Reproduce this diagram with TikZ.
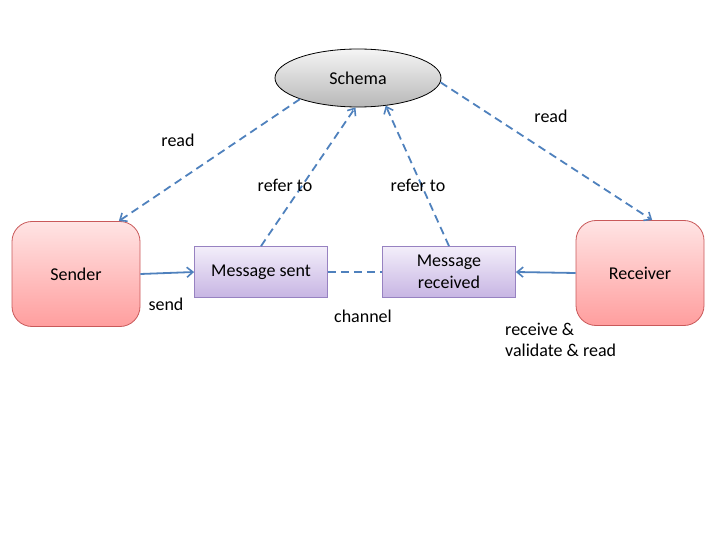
\documentclass[tikz,border=0pt]{standalone}
\usepackage{fontspec}
\setmainfont{Carlito}
\usetikzlibrary{arrows.meta,shapes.geometric}
\definecolor{linkblue}{HTML}{4F81BD}
\definecolor{actorline}{HTML}{C9595A}
\definecolor{actortop}{HTML}{FFE4E4}
\definecolor{actorbot}{HTML}{FF9E9E}
\definecolor{msgline}{HTML}{9782C1}
\definecolor{msgtop}{HTML}{F3EEFA}
\definecolor{msgbot}{HTML}{C7B5E3}
\tikzset{
  actor/.style={draw=actorline,line width=0.8pt,rounded corners=20pt,minimum width=128pt,minimum height=105pt,top color=actortop,bottom color=actorbot},
  msgbox/.style={draw=msgline,line width=0.8pt,minimum width=133pt,minimum height=51pt,top color=msgtop,bottom color=msgbot,align=center},
  schemanode/.style={ellipse,draw=black,line width=0.8pt,minimum width=166pt,minimum height=58pt,top color=white!96!black,bottom color=black!28},
  link/.style={linkblue,line width=1.8pt,-{Straight Barb[length=6pt,width=10pt,line width=1.6pt]}},
  dashlink/.style={link,dash pattern=on 8pt off 5pt},
  lbl/.style={inner sep=0pt}
}
\begin{document}
\begin{tikzpicture}[x=1pt,y=-1pt,font=\fontsize{18}{21.5}\selectfont]
\useasboundingbox (0,0) rectangle (720,540);
\node[schemanode] (schema) at (358,78) {Schema};
\node[actor] (sender) at (76,274) {Sender};
\node[actor] (receiver) at (640,273) {Receiver};
\node[msgbox] (sent) at (261,272) {Message sent};
\node[msgbox] (recv) at (449,272) {Message\\received};
\draw[link] (sender.east) -- (sent.west);
\draw[link] (receiver.west) -- (recv.east);
\draw[dashlink,-] (sent.east) -- (recv.west);
\draw[dashlink] (schema.200) -- (sender.51);
\draw[dashlink] (sent.north) -- (schema.265);
\draw[dashlink] (recv.north) -- (schema.-45);
\draw[dashlink] (schema.-3) -- (receiver.77);
\node[lbl] (readl) at (178,140) {read};
\node[lbl] (readr) at (551,116) {read};
\node[lbl] (referl) at (285,185) {refer to};
\node[lbl] (referr) at (418,185) {refer to};
\node[lbl] (sendl) at (166,304) {send};
\node[lbl] (chan) at (363,316) {channel};
\node[lbl,anchor=west,align=left] (recvl) at (505,340) {receive \&\\validate \& read};
\end{tikzpicture}
\end{document}
